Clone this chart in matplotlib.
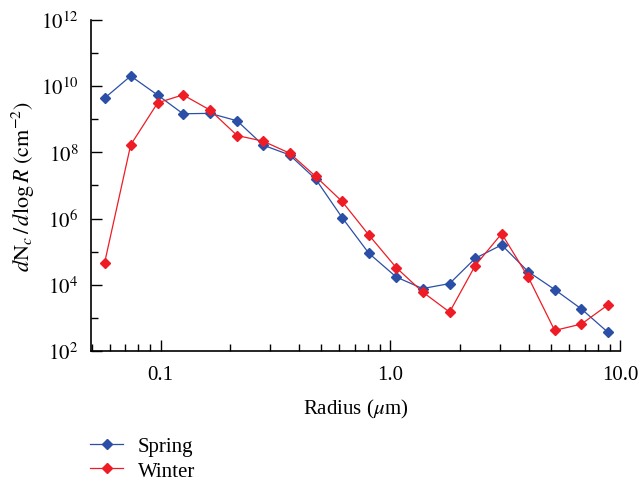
import matplotlib
matplotlib.use("Agg")
import matplotlib.pyplot as plt
from matplotlib.ticker import LogLocator, FixedLocator, NullFormatter, FixedFormatter

plt.rcParams['font.family'] = ['Liberation Serif', 'DejaVu Serif']
plt.rcParams['mathtext.fontset'] = 'stix'

# radius (um) and dN/dlogR (cm^-2)
radius = [0.057, 0.074, 0.097, 0.125, 0.164, 0.215, 0.279, 0.364, 0.473, 0.616,
          0.805, 1.06, 1.38, 1.81, 2.34, 3.05, 3.98, 5.19, 6.79, 8.83]
spring = [4.3e9, 2.0e10, 5.3e9, 1.45e9, 1.49e9, 8.9e8, 1.64e8, 8.3e7, 1.54e7, 1.07e6,
          9.0e4, 1.72e4, 7.7e3, 1.09e4, 6.3e4, 1.6e5, 2.5e4, 7.2e3, 1.86e3, 375]
winter = [4.7e4, 1.67e8, 3.1e9, 5.4e9, 1.87e9, 3.2e8, 2.16e8, 9.4e7, 1.86e7, 3.27e6,
          3.2e5, 3.3e4, 6.1e3, 1.5e3, 3.8e4, 3.5e5, 1.72e4, 420, 655, 2.45e3]

xticks = [0.1, 1.0, 10.0]
xtick_labels = ['0.1', '1.0', '10.0']

fig = plt.figure(figsize=(6.39, 4.81), dpi=100)
ax = fig.add_axes([0.1424, 0.268, 0.828, 0.689])

ax.plot(radius, spring, color='#2b4fa6', marker='D', markersize=5.5, linewidth=0.9, label='Spring')
ax.plot(radius, winter, color='#ee1c25', marker='D', markersize=5.5, linewidth=0.9, label='Winter')

ax.set_xscale('log')
ax.set_yscale('log')
ax.set_xlim(0.0497, 10.0)
ax.set_ylim(1e2, 1e12)

ax.xaxis.set_major_locator(FixedLocator(xticks))
ax.xaxis.set_major_formatter(FixedFormatter(xtick_labels))
ax.xaxis.set_minor_locator(LogLocator(base=10, subs=range(2, 10)))
ax.xaxis.set_minor_formatter(NullFormatter())

ax.yaxis.set_major_locator(FixedLocator([1e2, 1e4, 1e6, 1e8, 1e10, 1e12]))
ax.yaxis.set_major_formatter(FixedFormatter([r'$10^{%d}$' % p for p in (2, 4, 6, 8, 10, 12)]))
ax.yaxis.set_minor_locator(FixedLocator([1e3, 1e5, 1e7, 1e9, 1e11]))
ax.yaxis.set_minor_formatter(NullFormatter())

ax.spines['top'].set_visible(False)
ax.spines['right'].set_visible(False)
ax.spines['left'].set_linewidth(1.2)
ax.spines['bottom'].set_linewidth(1.2)
ax.tick_params(which='major', direction='in', length=8, width=1, labelsize=15)
ax.tick_params(which='minor', direction='in', length=5, width=1)
ax.tick_params(axis='x', which='major', pad=10)
ax.tick_params(axis='y', which='major', pad=9)

ax.set_xlabel(r'Radius ($\mu$m)', fontsize=15, labelpad=9)
ax.set_ylabel(r'$d\mathrm{N}_c\,/\,d\log R\ (\mathrm{cm}^{-2})$', fontsize=16, labelpad=3)

fig.legend(loc='upper left', bbox_to_anchor=(0.128, 0.108), frameon=False, fontsize=15,
           handlelength=1.6, handletextpad=0.7, labelspacing=0.25, markerscale=0.85,
           borderaxespad=0)

fig.savefig('out.png', dpi=100)
